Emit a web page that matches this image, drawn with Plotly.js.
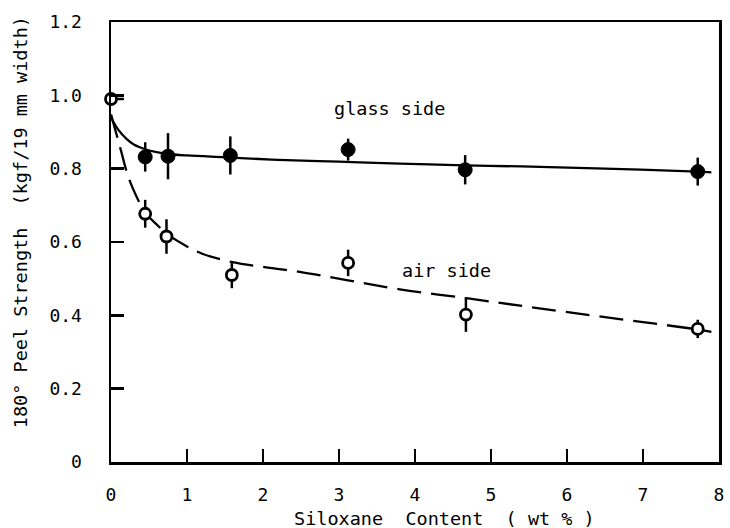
<!DOCTYPE html>
<html>
<head>
<meta charset="utf-8">
<script src="https://cdn.plot.ly/plotly-3.0.1.min.js"></script>
<style>html,body{margin:0;padding:0;background:#fff;}#chart{width:730px;height:528px;}</style>
</head>
<body>
<div id="chart"></div>
<script>
// Measured points
const glassX = [0.45, 0.75, 1.57, 3.12, 4.66, 7.72];
const glassY = [0.832, 0.834, 0.836, 0.852, 0.797, 0.792];
const glassErr = [0.04, 0.063, 0.052, 0.03, 0.04, 0.038];

const airX = [0, 0.45, 0.73, 1.59, 3.12, 4.67, 7.72];
const airY = [0.99, 0.677, 0.615, 0.51, 0.543, 0.402, 0.363];
const airErr = [0, 0.038, 0.047, 0.036, 0.036, 0.047, 0.025];
const airErrXPlus = [0.17, 0, 0, 0, 0, 0, 0];

// Fitted curves
const glassFitX = [0, 0.1, 0.2, 0.3, 0.45, 0.6, 0.75, 1.0, 1.5, 2.2, 3.0, 3.8, 4.66, 5.4, 6.5, 7.72, 7.9];
const glassFitY = [0.939, 0.905, 0.882, 0.866, 0.853, 0.845, 0.84, 0.836, 0.831, 0.824, 0.819, 0.814, 0.809, 0.806, 0.8, 0.792, 0.79];

const airFitX = [0, 0.12, 0.23, 0.34, 0.45, 0.6, 0.75, 1.0, 1.2, 1.6, 2.0, 2.5, 3.1, 3.8, 4.7, 5.5, 6.5, 7.7, 7.9];
const airFitY = [0.948, 0.858, 0.776, 0.722, 0.68, 0.648, 0.62, 0.588, 0.568, 0.545, 0.532, 0.518, 0.496, 0.471, 0.446, 0.423, 0.395, 0.362, 0.355];

const xTicks = [0, 1, 2, 3, 4, 5, 6, 7, 8];
const yTicks = [0, 0.2, 0.4, 0.6, 0.8, 1.0, 1.2];
const yTickText = ["0", "0.2", "0.4", "0.6", "0.8", "1.0", "1.2"];

const xTitle = "Siloxane  Content  ( wt % )";
const yTitle = "180° Peel Strength  (kgf/19 mm width)";
const labelGlass = "glass side";
const labelAir = "air side";

const FONT = "DejaVu Sans Mono, Liberation Mono, monospace";

const traces = [
  {x: glassFitX, y: glassFitY, mode: "lines", line: {color: "#000", width: 2.3, shape: "spline"}, hoverinfo: "skip"},
  {x: airFitX, y: airFitY, mode: "lines", line: {color: "#000", width: 2.3, dash: "24px,10px", shape: "spline"}, hoverinfo: "skip"},
  {x: glassX, y: glassY, mode: "markers", cliponaxis: false,
   marker: {symbol: "circle", size: 14, color: "#000", line: {color: "#000", width: 1}},
   error_y: {type: "data", array: glassErr, visible: true, color: "#000", thickness: 2.5, width: 0}},
  {x: airX, y: airY, mode: "markers", cliponaxis: false,
   marker: {symbol: "circle", size: 11, color: "#fff", line: {color: "#000", width: 2.8}},
   error_y: {type: "data", array: airErr, visible: true, color: "#000", thickness: 2.5, width: 0},
   error_x: {type: "data", symmetric: false, array: airErrXPlus, arrayminus: airErrXPlus.map(() => 0), visible: true, color: "#000", thickness: 2.5, width: 0}}
];

const layout = {
  width: 730, height: 528,
  margin: {l: 111, r: 11, t: 22, b: 66},
  paper_bgcolor: "#fff", plot_bgcolor: "#fff",
  showlegend: false,
  font: {family: FONT, size: 18, color: "#000"},
  xaxis: {
    range: [0, 8], tickvals: xTicks, ticktext: xTicks.map(String),
    ticks: "inside", ticklen: 13, tickwidth: 2.5, tickcolor: "#000",
    showline: true, linewidth: 2.5, linecolor: "#000", mirror: true,
    showgrid: false, zeroline: false, ticklabelstandoff: 15,
    tickfont: {family: FONT, size: 18}
  },
  yaxis: {
    range: [0, 1.2], tickvals: yTicks, ticktext: yTickText,
    ticks: "inside", ticklen: 13, tickwidth: 2.5, tickcolor: "#000",
    showline: true, linewidth: 2.5, linecolor: "#000", mirror: true,
    showgrid: false, zeroline: false, ticklabelstandoff: 23,
    tickfont: {family: FONT, size: 18}
  },
  annotations: [
    {x: 3.66, y: 0.963, xref: "x", yref: "y", text: labelGlass, showarrow: false, font: {family: FONT, size: 18.5}},
    {x: 4.42, y: 0.522, xref: "x", yref: "y", text: labelAir, showarrow: false, font: {family: FONT, size: 18.5}},
    {x: -0.1497, y: 0.545, xref: "paper", yref: "paper", text: yTitle, textangle: -90, showarrow: false,
     xanchor: "center", yanchor: "middle", font: {family: FONT, size: 18.5}},
    {x: 0.549, y: -0.1295, xref: "paper", yref: "paper", text: xTitle, showarrow: false,
     xanchor: "center", yanchor: "middle", font: {family: FONT, size: 18.5}}
  ]
};

Plotly.newPlot("chart", traces, layout, {staticPlot: true, displayModeBar: false});
</script>
</body>
</html>
